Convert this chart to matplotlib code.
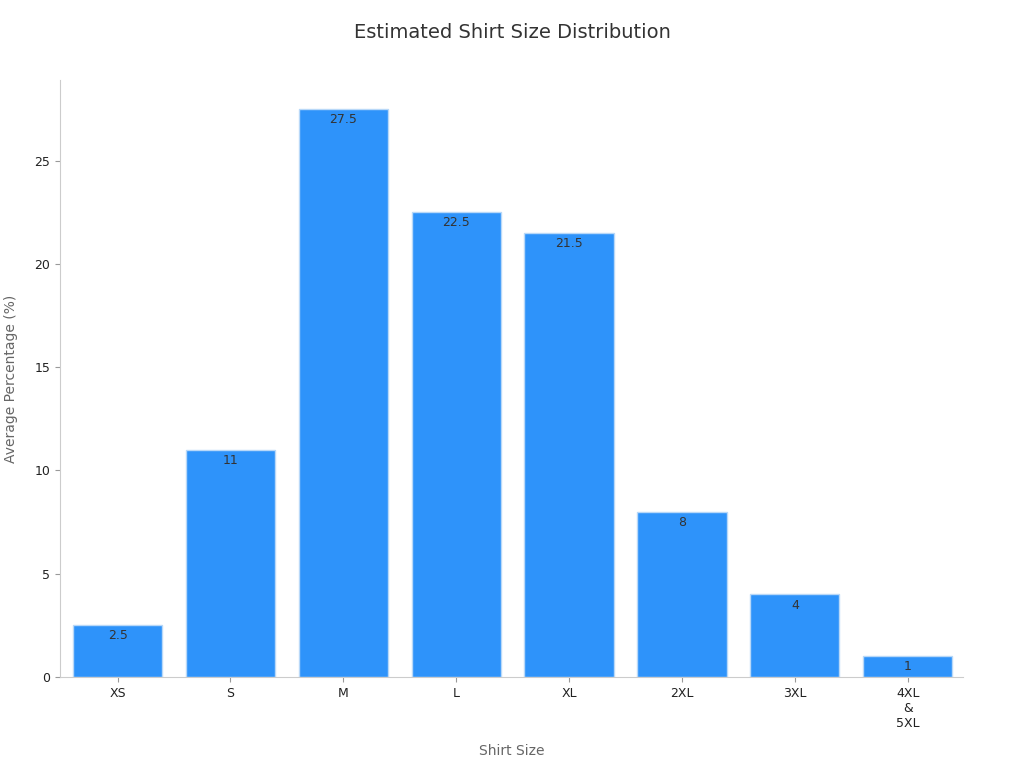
import matplotlib.pyplot as plt

sizes = ["XS", "S", "M", "L", "XL", "2XL", "3XL", "4XL\n&\n5XL"]
percents = [2.5, 11, 27.5, 22.5, 21.5, 8, 4, 1]
labels = ["2.5", "11", "27.5", "22.5", "21.5", "8", "4", "1"]

plt.rcParams['font.family'] = ['DejaVu Sans']
fig = plt.figure(figsize=(10.24, 7.68), dpi=100)
ax = fig.add_axes([60/1024, 1-677/768, 903/1024, 597/768])

x = range(len(sizes))
bars = ax.bar(x, percents, width=0.79, color="#2E93FA", edgecolor="#B8D8F8", linewidth=1)
for xi, v, lab in zip(x, percents, labels):
    ax.text(xi, v - 0.2, lab, ha="center", va="top", fontsize=9, color="#333333")

ax.set_xlim(-0.51, 7.49)
ax.set_ylim(0, 28.9)
ax.set_yticks([0, 5, 10, 15, 20, 25])
ax.set_xticks(list(x))
ax.set_xticklabels(sizes, fontsize=9, color="#222222")
ax.tick_params(axis="y", labelsize=9, colors="#222222")
ax.tick_params(axis="both", color="#999999")
for s in ["top", "right"]:
    ax.spines[s].set_visible(False)
for s in ["left", "bottom"]:
    ax.spines[s].set_color("#cccccc")
ax.set_xlabel("Shirt Size", fontsize=10, color="#666666", labelpad=10)
ax.set_ylabel("Average Percentage (%)", fontsize=10, color="#666666", labelpad=12)
fig.text(512/1024, 1-33/768, "Estimated Shirt Size Distribution", ha="center", va="center",
         fontsize=14, color="#333333")
fig.savefig("out.png")
